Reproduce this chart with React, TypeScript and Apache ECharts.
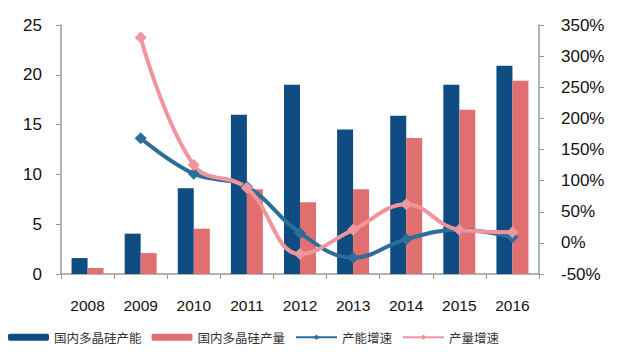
import React, { useEffect, useRef } from "react";
import * as echarts from "echarts";

const years = ["2008", "2009", "2010", "2011", "2012", "2013", "2014", "2015", "2016"];
const capacity = [1.6, 4.05, 8.6, 16.0, 19.0, 14.5, 15.9, 19.0, 20.9];
const output = [0.6, 2.1, 4.55, 8.5, 7.2, 8.5, 13.65, 16.5, 19.4];
const capacityGrowth = [null, 168, 111, 90, 16, -24, 6, 21, 9];
const outputGrowth = [null, 330, 125, 88, -18, 21, 62, 21, 17];

const FONT = "'Liberation Sans', Arial, 'Noto Sans CJK SC', sans-serif";

export default function App() {
  const ref = useRef<HTMLDivElement>(null);
  useEffect(() => {
    document.body.style.margin = "0";
    const chart = echarts.init(ref.current!, null, { renderer: "svg" });
    chart.setOption({
      animation: false,
      textStyle: { fontFamily: FONT },
      grid: { left: 61, right: 97, top: 25, bottom: 88 },
      legend: {
        left: 3,
        top: 326,
        itemWidth: 41,
        itemHeight: 7,
        itemGap: 10,
        textStyle: { fontSize: 12.5, color: "#333", fontFamily: "'Noto Sans CJK SC', sans-serif" },
        data: ["国内多晶硅产能", "国内多晶硅产量", "产能增速", "产量增速"],
      },
      xAxis: {
        type: "category",
        data: years,
        axisLine: { lineStyle: { color: "#999", width: 1.5 } },
        axisTick: { show: true, length: 5, lineStyle: { color: "#999" } },
        axisLabel: { fontSize: 15.5, color: "#111", margin: 24 },
      },
      yAxis: [
        {
          type: "value",
          min: 0,
          max: 25,
          interval: 5,
          splitLine: { show: false },
          axisLine: { show: true, lineStyle: { color: "#999", width: 1.5 } },
          axisTick: { show: true, length: 5, lineStyle: { color: "#999" } },
          axisLabel: { fontSize: 17, color: "#111", margin: 19 },
        },
        {
          type: "value",
          min: -50,
          max: 350,
          interval: 50,
          splitLine: { show: false },
          axisLine: { show: true, lineStyle: { color: "#999", width: 1.5 } },
          axisTick: { show: true, length: 5, lineStyle: { color: "#999" } },
          axisLabel: { fontSize: 17, color: "#111", margin: 22, formatter: "{value}%" },
        },
      ],
      series: [
        {
          name: "国内多晶硅产能",
          type: "bar",
          data: capacity,
          barWidth: 16,
          barGap: "0%",
          itemStyle: { color: "#0f4c81" },
        },
        {
          name: "国内多晶硅产量",
          type: "bar",
          data: output,
          barWidth: 16,
          barGap: "0%",
          itemStyle: { color: "#e07070" },
        },
        {
          name: "产能增速",
          type: "line",
          yAxisIndex: 1,
          data: capacityGrowth,
          smooth: 0.4,
          symbol: "diamond",
          symbolSize: 12,
          lineStyle: { color: "#2c6e99", width: 4 },
          itemStyle: { color: "#2c6e99" },
        },
        {
          name: "产量增速",
          type: "line",
          yAxisIndex: 1,
          data: outputGrowth,
          smooth: 0.4,
          symbol: "diamond",
          symbolSize: 12,
          lineStyle: { color: "#f0959e", width: 4 },
          itemStyle: { color: "#f0959e" },
        },
      ],
    });
    return () => chart.dispose();
  }, []);
  return <div ref={ref} style={{ width: 636, height: 362 }} />;
}
